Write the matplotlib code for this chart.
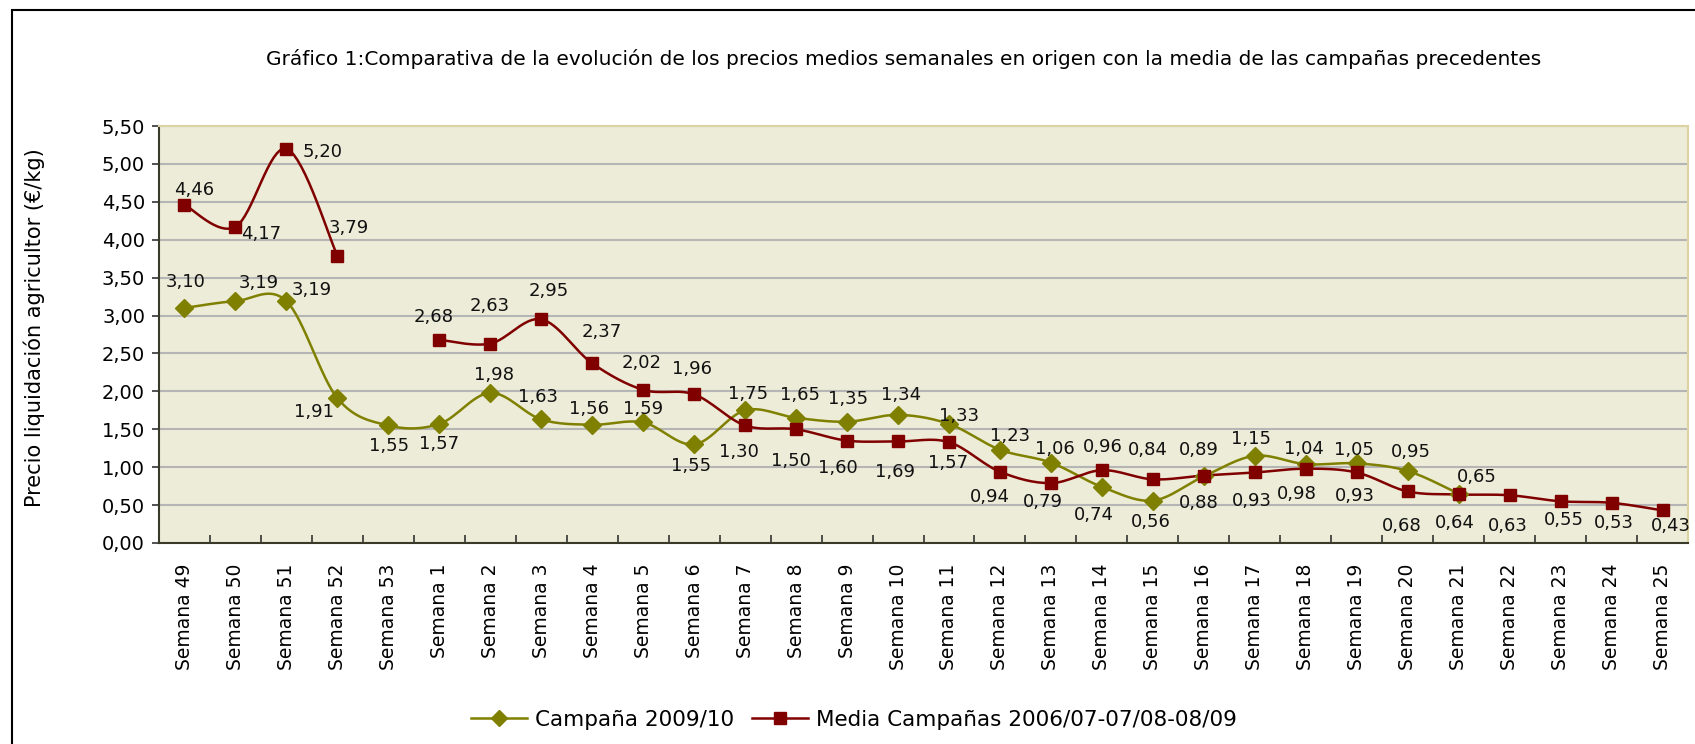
import numpy as np
import matplotlib
matplotlib.use("Agg")
import matplotlib.pyplot as plt
from matplotlib import font_manager
from matplotlib.patches import Rectangle
from matplotlib.ticker import FixedLocator, FuncFormatter

weeks = ["Semana 49", "Semana 50", "Semana 51", "Semana 52", "Semana 53"] + \
        ["Semana %d" % i for i in range(1, 26)]

campana = [3.10, 3.19, 3.19, 1.91, 1.55, 1.57, 1.98, 1.63, 1.56, 1.59,
           1.30, 1.75, 1.65, 1.60, 1.69, 1.57, 1.23, 1.06, 0.74, 0.56,
           0.88, 1.15, 1.04, 1.05, 0.95, 0.65, None, None, None, None]
media = [4.46, 4.17, 5.20, 3.79, None, 2.68, 2.63, 2.95, 2.37, 2.02,
         1.96, 1.55, 1.50, 1.35, 1.34, 1.33, 0.94, 0.79, 0.96, 0.84,
         0.89, 0.93, 0.98, 0.93, 0.68, 0.64, 0.63, 0.55, 0.53, 0.43]

# data labels as printed on the original chart
campana_labels = ["3,10", "3,19", "3,19", "1,91", "1,55", "1,57", "1,98", "1,63", "1,56", "1,59",
                  "1,55", "1,75", "1,65", "1,35", "1,34", "1,33", "1,23", "1,06", "0,74", "0,56",
                  "0,88", "1,15", "1,04", "1,05", "0,95", "0,65"]
media_labels = ["4,46", "4,17", "5,20", "3,79", "", "2,68", "2,63", "2,95", "2,37", "2,02",
                "1,96", "1,30", "1,50", "1,60", "1,69", "1,57", "0,94", "0,79", "0,96", "0,84",
                "0,89", "0,93", "0,98", "0,93", "0,68", "0,64", "0,63", "0,55", "0,53", "0,43"]

# label offsets in pixels (placement only)
campana_off = [(1, 26), (23, 18), (25, 11), (-23, -14), (1, -21), (0, -20), (4, 18), (-3, 22),
               (-3, 16), (0, 13), (-3, -22), (3, 16), (4, 23), (1, 23), (3, 20), (10, 8),
               (10, 14), (4, 14), (-8, -28), (-2, -21), (-5, -27), (-4, 17), (-2, 15),
               (-3, 13), (3, 19), (18, 17)]
media_off = [(10, 15), (26, -7), (36, -3), (11, 28), None, (-6, 23), (-1, 38), (8, 28),
             (10, 31), (-2, 27), (-2, 25), (-6, -27), (-5, -32), (-9, -27), (-3, -31),
             (-1, -21), (-10, -25), (-8, -19), (1, 23), (-5, 29), (-5, 26), (-3, -29),
             (-9, -25), (-2, -24), (-6, -35), (-4, -29), (-2, -31), (3, -19), (2, -20), (8, -16)]

GREEN = "#808000"
RED = "#800000"

names = {f.name for f in font_manager.fontManager.ttflist}
narrow = "Liberation Sans Narrow" if "Liberation Sans Narrow" in names else "DejaVu Sans"
plt.rcParams["font.family"] = ["DejaVu Sans"]


def smooth(xs, ys, n=16):
    # Excel-style smoothed line (Catmull-Rom as cubic Bezier)
    px, py = [], []
    m = len(xs)
    if m < 2:
        return list(xs), list(ys)
    for i in range(m - 1):
        x0, y0 = (xs[i - 1], ys[i - 1]) if i > 0 else (xs[i], ys[i])
        x1, y1 = xs[i], ys[i]
        x2, y2 = xs[i + 1], ys[i + 1]
        x3, y3 = (xs[i + 2], ys[i + 2]) if i + 2 < m else (x2, y2)
        c1 = (x1 + (x2 - x0) / 6, y1 + (y2 - y0) / 6)
        c2 = (x2 - (x3 - x1) / 6, y2 - (y3 - y1) / 6)
        t = np.linspace(0, 1, n, endpoint=(i == m - 2))
        a, b, c, d = (1 - t) ** 3, 3 * (1 - t) ** 2 * t, 3 * (1 - t) * t ** 2, t ** 3
        px.extend(a * x1 + b * c1[0] + c * c2[0] + d * x2)
        py.extend(a * y1 + b * c1[1] + c * c2[1] + d * y2)
    return px, py


def segments(vals):
    seg, out = [], []
    for i, v in enumerate(vals):
        if v is None:
            if seg:
                out.append(seg)
            seg = []
        else:
            seg.append(i)
    if seg:
        out.append(seg)
    return out


fig = plt.figure(figsize=(16.95, 7.44), dpi=100)
ax = fig.add_axes([159 / 1695, 1 - 543 / 744, (1688 - 159) / 1695, (543 - 126) / 744])
ax.set_facecolor("#ECECD8")

for vals, color, marker, ms, lab in [(campana, GREEN, "D", 9, "Campaña 2009/10"),
                                     (media, RED, "s", 9, "Media Campañas 2006/07-07/08-08/09")]:
    for seg in segments(vals):
        sx, sy = smooth(seg, [vals[i] for i in seg])
        ax.plot(sx, sy, color=color, lw=1.8, zorder=3)
        ax.plot(seg, [vals[i] for i in seg], ls="none", marker=marker, ms=ms,
                color=color, zorder=4)
    ax.plot([], [], color=color, lw=1.8, marker=marker, ms=ms - 1, label=lab)

for vals, labels, offs in [(campana, campana_labels, campana_off), (media, media_labels, media_off)]:
    for i, txt in enumerate(labels):
        if vals[i] is None or not txt:
            continue
        ax.annotate(txt, (i, vals[i]), xytext=offs[i], textcoords="offset pixels",
                    ha="center", va="center", fontsize=13, color="#111111", zorder=5)

ax.set_xlim(-0.5, len(weeks) - 0.5)
ax.set_ylim(0, 5.5)
ax.set_yticks(np.arange(0, 5.51, 0.5))
ax.yaxis.set_major_formatter(FuncFormatter(lambda v, p: ("%.2f" % v).replace(".", ",")))
ax.grid(axis="y", color="#B5B5B5", lw=1.5, zorder=1)
ax.set_axisbelow(True)

ax.set_xticks(range(len(weeks)))
ax.set_xticklabels(weeks, rotation=90, fontsize=13.5, va="top")
ax.xaxis.set_minor_locator(FixedLocator(np.arange(0.5, len(weeks) - 0.5, 1)))
ax.tick_params(axis="x", which="major", length=0, pad=15)
ax.tick_params(axis="x", which="minor", direction="in", length=6, width=1.2, color="#333333")
ax.tick_params(axis="y", direction="out", length=5, width=1.2, color="#333333", labelsize=14, pad=5)

for s in ["left", "bottom"]:
    ax.spines[s].set_color("#3A3A2A")
    ax.spines[s].set_linewidth(1.5)
for s in ["top", "right"]:
    ax.spines[s].set_color("#DDD2A4")
    ax.spines[s].set_linewidth(1.5)

ax.set_ylabel("Precio liquidación agricultor (€/kg)", fontsize=15)
ax.yaxis.set_label_coords(45 / 1695, 1 - 328 / 744, transform=fig.transFigure)

fig.text(904 / 1695, 1 - 59 / 744,
         "Gráfico 1:Comparativa de la evolución de los precios medios semanales en origen con la media de las campañas precedentes",
         ha="center", va="center", fontsize=14.5, family=narrow)

fig.legend(loc="center", bbox_to_anchor=(854 / 1695, 1 - 720 / 744), ncol=2, frameon=False,
           fontsize=15.5, handlelength=2.6, columnspacing=0.8, handletextpad=0.4)

fig.add_artist(Rectangle((12 / 1695, -0.05), 1.1, 1 - 10 / 744 + 0.05, transform=fig.transFigure,
                         fill=False, ec="black", lw=1.5))

fig.savefig("out.png", dpi=100)
